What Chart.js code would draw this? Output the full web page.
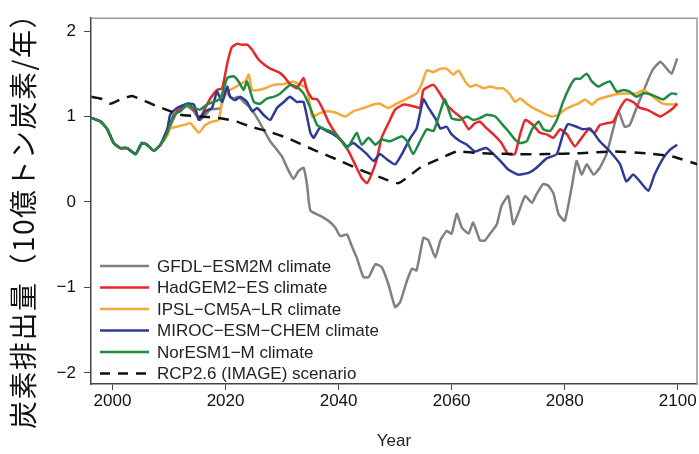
<!DOCTYPE html>
<html>
<head>
<meta charset="utf-8">
<script src="https://cdn.jsdelivr.net/npm/chart.js@4.4.1/dist/chart.umd.min.js"></script>
<style>
  html, body { margin: 0; padding: 0; background: #fff; }
  #wrap { width: 699px; height: 454px; }
</style>
</head>
<body>
<div id="wrap"><canvas id="chart" width="699" height="454"></canvas></div>
<script>
// all models share the historical part up to ~2008
const sharedYears  = [1996, 1997.9, 1999.1, 2000.2, 2001.4, 2002.6, 2004.1, 2005.2, 2006.1, 2007.3, 2008.5];
const sharedValues = [0.99, 0.94, 0.85, 0.69, 0.63, 0.63, 0.56, 0.69, 0.67, 0.60, 0.67];

const gfdlYears  = [2009.7, 2011.4, 2013.2, 2014.4, 2015.5, 2017.3, 2019.1, 2020, 2020.6, 2021.4, 2022.3, 2023.2, 2024.4, 2025.6, 2026.7, 2027.9, 2029.1, 2030, 2030.9, 2032, 2032.9, 2033.8, 2034.4, 2035, 2036.7, 2038.2, 2039.4, 2040.3, 2041.5, 2042.3, 2043.2, 2044.4, 2045.3, 2046.5, 2047.6, 2048.8, 2050, 2050.9, 2052.1, 2053, 2053.8, 2055, 2055.9, 2057.1, 2058, 2059.1, 2060, 2060.9, 2061.8, 2063, 2063.8, 2065, 2065.9, 2066.8, 2068, 2068.8, 2070, 2070.9, 2071.8, 2073, 2074.2, 2075, 2076.2, 2077.1, 2078, 2078.9, 2080, 2081.2, 2082.1, 2083, 2083.9, 2085.1, 2086.2, 2087.4, 2088.6, 2089.5, 2090.6, 2091.5, 2092.7, 2093.9, 2094.8, 2095.7, 2096.9, 2097.8, 2098.9, 2099.9];
const gfdlValues = [0.81, 1.05, 1.12, 1.06, 0.96, 1.08, 1.10, 1.31, 1.25, 1.21, 1.23, 1.17, 1.10, 0.98, 0.85, 0.71, 0.61, 0.53, 0.40, 0.27, 0.36, 0.40, 0.21, -0.10, -0.16, -0.22, -0.30, -0.40, -0.38, -0.51, -0.65, -0.88, -0.88, -0.73, -0.76, -0.96, -1.23, -1.17, -0.92, -0.78, -0.80, -0.42, -0.45, -0.65, -0.45, -0.34, -0.37, -0.14, -0.30, -0.37, -0.24, -0.45, -0.45, -0.37, -0.26, -0.05, 0.07, -0.26, -0.13, 0.07, -0.01, 0.09, 0.21, 0.19, 0.10, -0.14, -0.22, 0.16, 0.48, 0.32, 0.44, 0.32, 0.40, 0.56, 0.86, 1.06, 0.88, 0.90, 1.10, 1.29, 1.44, 1.56, 1.64, 1.58, 1.50, 1.68];

const hadgemYears  = [2009.7, 2011.4, 2013.2, 2014.7, 2015.3, 2016.1, 2017.3, 2018.5, 2019.4, 2020.3, 2021.1, 2022, 2022.9, 2023.8, 2024.7, 2025.8, 2027, 2028.2, 2029.4, 2030.3, 2031.4, 2032.6, 2033.8, 2034.4, 2035.3, 2036.2, 2037.1, 2038.2, 2039.4, 2040.6, 2041.8, 2042.9, 2044.1, 2045, 2045.8, 2046.8, 2047.6, 2048.8, 2050, 2051.5, 2053.2, 2054.4, 2055, 2056.8, 2058, 2059.1, 2060.3, 2061.8, 2063, 2064.1, 2065, 2066.2, 2067.4, 2068.8, 2070, 2071.2, 2072.1, 2073, 2074.4, 2075.6, 2076.8, 2078, 2079.2, 2080.4, 2081.8, 2083, 2084.2, 2085.3, 2086.2, 2087.4, 2088.6, 2089.8, 2090.9, 2092.1, 2093.3, 2094.5, 2095.7, 2096.9, 2098, 2099.2, 2099.9];
const hadgemValues = [0.85, 1.06, 1.15, 1.06, 0.96, 1.06, 1.21, 1.31, 1.33, 1.62, 1.81, 1.85, 1.84, 1.84, 1.78, 1.67, 1.60, 1.55, 1.52, 1.47, 1.38, 1.33, 1.45, 1.31, 1.21, 1.20, 1.10, 0.94, 0.81, 0.71, 0.59, 0.44, 0.28, 0.22, 0.32, 0.51, 0.75, 0.92, 1.08, 1.14, 1.12, 1.10, 1.31, 1.37, 1.26, 1.14, 1.06, 0.98, 0.85, 0.92, 0.94, 0.86, 0.79, 0.69, 0.56, 0.56, 0.79, 0.96, 0.90, 0.81, 0.79, 0.75, 0.85, 0.79, 0.65, 0.75, 0.85, 0.81, 0.90, 0.92, 0.94, 1.10, 1.20, 1.17, 1.10, 1.08, 1.04, 1.00, 1.04, 1.10, 1.15];

const ipslYears  = [2009.7, 2010.2, 2011.4, 2012.6, 2013.8, 2015.3, 2016.4, 2017.6, 2018.8, 2019.4, 2020.3, 2021.4, 2022.6, 2023.5, 2024.1, 2024.7, 2025.8, 2027, 2028.5, 2030.3, 2032, 2033.2, 2034.4, 2035.3, 2036.7, 2038.2, 2039.7, 2041.2, 2042.6, 2044.4, 2046.2, 2047.3, 2048.8, 2050.3, 2052.1, 2053.8, 2054.7, 2055.6, 2056.8, 2058, 2059.1, 2060.3, 2061.2, 2062.4, 2063.3, 2064.4, 2065.6, 2066.8, 2068, 2069.1, 2070.3, 2071.2, 2072.1, 2073.3, 2074.4, 2076.2, 2077.7, 2078.9, 2080, 2081.2, 2082.4, 2083.6, 2084.8, 2085.9, 2087.4, 2089.2, 2090.9, 2092.7, 2093.9, 2095.1, 2096.2, 2097.4, 2098.9, 2099.9];
const ipslValues = [0.78, 0.86, 0.88, 0.90, 0.92, 0.81, 0.90, 0.94, 0.96, 1.17, 1.29, 1.33, 1.38, 1.41, 1.49, 1.31, 1.31, 1.33, 1.37, 1.38, 1.41, 1.37, 1.33, 1.00, 1.04, 1.06, 1.04, 1.00, 1.06, 1.10, 1.14, 1.15, 1.10, 1.15, 1.21, 1.27, 1.38, 1.54, 1.52, 1.56, 1.56, 1.49, 1.54, 1.41, 1.35, 1.37, 1.33, 1.35, 1.33, 1.33, 1.26, 1.17, 1.21, 1.15, 1.10, 1.04, 1.00, 1.02, 1.08, 1.12, 1.15, 1.20, 1.14, 1.20, 1.23, 1.26, 1.27, 1.27, 1.31, 1.26, 1.20, 1.15, 1.14, 1.15];

const mirocYears  = [2009.7, 2010.2, 2011.4, 2013.2, 2014.4, 2015.3, 2016.4, 2017.6, 2018.5, 2019.4, 2020.3, 2020.8, 2021.7, 2022.6, 2023.8, 2024.7, 2025.6, 2026.7, 2027.9, 2029.1, 2030.3, 2031.4, 2032.6, 2033.8, 2035, 2035.6, 2036.7, 2037.9, 2039.1, 2040.3, 2041.5, 2042.6, 2043.8, 2045, 2046.2, 2047.3, 2048.5, 2050, 2051.2, 2052.7, 2053.8, 2055, 2055.9, 2057.1, 2058, 2059.1, 2060, 2061.5, 2062.7, 2064.1, 2065, 2066.2, 2067.4, 2068.6, 2070, 2071.8, 2073.6, 2075, 2076.8, 2078.6, 2079.7, 2080.6, 2082.1, 2083.3, 2084.5, 2086.2, 2088, 2089.8, 2090.9, 2092.1, 2093.3, 2094.8, 2095.9, 2097.4, 2098.6, 2099.9];
const mirocValues = [0.85, 1.02, 1.10, 1.15, 1.14, 0.96, 1.06, 1.10, 1.29, 1.17, 1.35, 1.23, 1.19, 1.23, 1.17, 1.06, 1.10, 1.02, 0.96, 1.10, 1.17, 1.23, 1.17, 1.17, 0.81, 0.75, 0.87, 0.83, 0.79, 0.73, 0.65, 0.69, 0.63, 0.56, 0.48, 0.56, 0.50, 0.44, 0.56, 0.75, 0.86, 1.20, 1.10, 0.98, 0.86, 0.88, 0.79, 0.71, 0.67, 0.59, 0.61, 0.63, 0.56, 0.48, 0.38, 0.32, 0.34, 0.40, 0.51, 0.56, 0.79, 0.91, 0.88, 0.85, 0.86, 0.71, 0.59, 0.44, 0.24, 0.32, 0.24, 0.13, 0.32, 0.51, 0.61, 0.67];

const noresmYears  = [2009.7, 2010.8, 2012, 2013.2, 2014.4, 2015.5, 2016.7, 2017.9, 2019.1, 2020.3, 2021.4, 2022.3, 2023.2, 2023.8, 2025, 2026.1, 2027.3, 2028.5, 2029.7, 2031.4, 2032.6, 2033.8, 2035, 2036.2, 2037.6, 2039.1, 2040.3, 2041.5, 2042.3, 2043.2, 2044.1, 2045.3, 2046.5, 2047.6, 2049.1, 2051.2, 2052.1, 2053.2, 2054.4, 2055.6, 2056.8, 2058, 2058.8, 2060, 2061.5, 2062.7, 2063.8, 2065, 2066.2, 2067.7, 2068.8, 2070, 2071.2, 2072.1, 2073.3, 2074.2, 2075.4, 2076.2, 2077.4, 2078.6, 2079.7, 2080.9, 2081.8, 2082.7, 2083.9, 2084.8, 2085.9, 2086.8, 2088, 2089.2, 2090.4, 2091.5, 2092.7, 2093.9, 2095.1, 2096.2, 2097.4, 2098.9, 2099.9];
const noresmValues = [0.81, 1.02, 1.06, 1.14, 1.10, 1.08, 1.14, 1.17, 1.21, 1.45, 1.47, 1.41, 1.31, 1.41, 1.17, 1.15, 1.21, 1.23, 1.27, 1.37, 1.35, 1.27, 1.10, 0.90, 0.85, 0.81, 0.73, 0.63, 0.71, 0.81, 0.67, 0.75, 0.67, 0.73, 0.71, 0.77, 0.71, 0.56, 0.71, 0.85, 0.83, 1.06, 1.20, 0.98, 0.96, 1.00, 0.96, 0.98, 1.02, 1.00, 0.92, 0.83, 0.73, 0.69, 0.71, 0.85, 0.94, 0.85, 0.83, 0.96, 1.17, 1.35, 1.44, 1.44, 1.50, 1.41, 1.35, 1.38, 1.41, 1.29, 1.31, 1.29, 1.23, 1.27, 1.26, 1.23, 1.20, 1.27, 1.26];

const rcpYears  = [1996.3, 1997.9, 1999.6, 2001.7, 2003.5, 2004.6, 2006.1, 2007.9, 2012, 2015.5, 2019.1, 2022, 2024.4, 2027.3, 2030.9, 2035.6, 2040.3, 2044.4, 2047.3, 2050.6, 2054.4, 2058, 2060.9, 2065, 2070.9, 2076.8, 2082.7, 2088.6, 2094.5, 2099.2, 2103.5];
const rcpValues = [1.23, 1.21, 1.15, 1.21, 1.24, 1.21, 1.17, 1.12, 1.02, 1.00, 0.98, 0.94, 0.88, 0.83, 0.75, 0.61, 0.48, 0.36, 0.29, 0.22, 0.40, 0.51, 0.59, 0.57, 0.56, 0.56, 0.57, 0.59, 0.57, 0.53, 0.44];

const labels = ['GFDL\u2212ESM2M climate', 'HadGEM2\u2212ES climate', 'IPSL\u2212CM5A\u2212LR climate',
                'MIROC\u2212ESM\u2212CHEM climate', 'NorESM1\u2212M climate', 'RCP2.6 (IMAGE) scenario'];
const colors = ['#808080', '#e8262b', '#f4a93a', '#2e3b96', '#1f8b42', '#111111'];

const yTitle = '炭素排出量（10億トン炭素/年）';

const toPoints = (xs, ys) => xs.map((x, i) => ({ x: x, y: ys[i] }));
const withShared = (xs, ys) => toPoints(sharedYears.concat(xs), sharedValues.concat(ys));

const series = [
  withShared(gfdlYears, gfdlValues),
  withShared(hadgemYears, hadgemValues),
  withShared(ipslYears, ipslValues),
  withShared(mirocYears, mirocValues),
  withShared(noresmYears, noresmValues),
  toPoints(rcpYears, rcpValues)
];
// draw order: lower = on top
const drawOrder = [5, 3, 4, 2, 1, 0];

const datasets = series.map((pts, i) => ({
  label: labels[i],
  data: pts,
  borderColor: colors[i],
  borderWidth: 2.5,
  borderDash: i === 5 ? [11, 8] : [],
  pointRadius: 0,
  tension: 0.15,
  fill: false,
  order: drawOrder[i]
}));

const frame = {
  id: 'frame',
  beforeDatasetsDraw(chart) {
    const a = chart.chartArea, ctx = chart.ctx;
    ctx.save();
    ctx.strokeStyle = '#999';
    ctx.lineWidth = 1.5;
    ctx.beginPath();
    ctx.moveTo(a.left, a.top);
    ctx.lineTo(a.right, a.top);
    ctx.lineTo(a.right, a.bottom);
    ctx.stroke();
    ctx.restore();
  }
};

// legend sits inside the plot, bottom left
const innerLegend = {
  id: 'innerLegend',
  afterDraw(chart) {
    const ctx = chart.ctx;
    ctx.save();
    ctx.font = '17px "Liberation Sans", Arial, sans-serif';
    ctx.textBaseline = 'middle';
    chart.data.datasets.forEach((ds, i) => {
      const y = 266 + i * 21.5;
      ctx.strokeStyle = ds.borderColor;
      ctx.lineWidth = 2.5;
      ctx.setLineDash(i === 5 ? [10, 8] : []);
      ctx.beginPath();
      ctx.moveTo(100, y);
      ctx.lineTo(149, y);
      ctx.stroke();
      ctx.fillStyle = '#222';
      ctx.fillText(ds.label, 157, y + 1);
    });
    ctx.setLineDash([]);
    // y title (vertical, Japanese)
    ctx.translate(23, 214);
    ctx.rotate(-Math.PI / 2);
    ctx.font = '28px "Noto Sans CJK JP", sans-serif';
    ctx.letterSpacing = '1.5px';
    ctx.textAlign = 'center';
    ctx.fillStyle = '#111';
    ctx.fillText(yTitle, 0, 0);
    ctx.restore();
  }
};

const fmt = v => (v < 0 ? '\u2212' + Math.abs(v) : String(v));

new Chart(document.getElementById('chart'), {
  type: 'line',
  data: { datasets: datasets },
  plugins: [frame, innerLegend],
  options: {
    responsive: false,
    animation: false,
    devicePixelRatio: 1,
    layout: { padding: { left: 0, top: 16, right: 2, bottom: 0 } },
    plugins: { legend: { display: false }, tooltip: { enabled: false } },
    scales: {
      x: {
        type: 'linear',
        min: 1996.2,
        max: 2103.4,
        afterFit: s => { s.height = 70; },
        border: { color: '#444', width: 1.5 },
        grid: { drawOnChartArea: false, color: '#444', tickLength: 6 },
        ticks: {
          stepSize: 20,
          includeBounds: false,
          maxRotation: 0,
          padding: 1,
          color: '#111',
          font: { family: '"Liberation Sans", Arial, sans-serif', size: 17 },
          callback: v => String(v)
        },
        title: {
          display: true,
          text: 'Year',
          color: '#222',
          padding: { top: 0, bottom: 2 },
          font: { family: '"Liberation Sans", Arial, sans-serif', size: 17 }
        }
      },
      y: {
        min: -2.13,
        max: 2.15,
        afterFit: s => { s.width = 91; },
        border: { color: '#444', width: 1.5 },
        grid: { drawOnChartArea: false, color: '#444', tickLength: 7 },
        ticks: {
          stepSize: 1,
          includeBounds: false,
          padding: 8,
          color: '#111',
          font: { family: '"Liberation Sans", Arial, sans-serif', size: 17 },
          callback: fmt
        }
      }
    }
  }
});
</script>
</body>
</html>
